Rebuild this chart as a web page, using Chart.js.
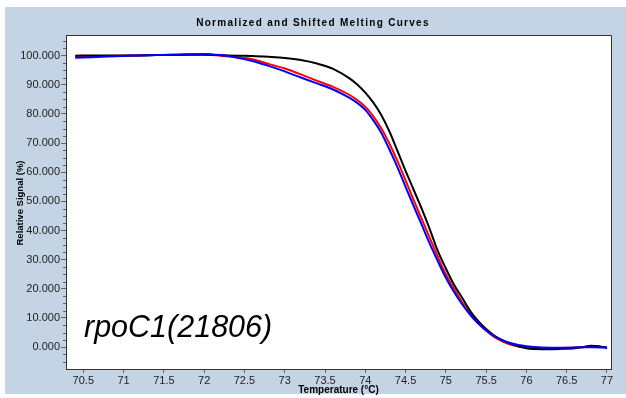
<!DOCTYPE html>
<html>
<head>
<meta charset="utf-8">
<script src="https://cdn.jsdelivr.net/npm/chart.js@4.4.1/dist/chart.umd.min.js"></script>
<style>
  html, body { margin: 0; padding: 0; background: #ffffff; }
  canvas { display: block; }
</style>
</head>
<body>
<canvas id="c" width="626" height="398"></canvas>
<script>
const chartTitle = 'Normalized and Shifted Melting Curves';
const xTitle = 'Temperature (°C)';
const yTitle = 'Relative Signal (%)';
const annotation = 'rpoC1(21806)';

const temps = [70.4, 70.6, 70.8, 71.0, 71.2, 71.4, 71.6, 71.8, 72.0, 72.2, 72.4, 72.6, 72.8, 73.0, 73.2, 73.4, 73.6, 73.8, 73.9, 74.0, 74.1, 74.2, 74.3, 74.4, 74.5, 74.6, 74.7, 74.8, 74.9, 75.0, 75.1, 75.2, 75.3, 75.4, 75.5, 75.6, 75.7, 75.8, 75.9, 76.0, 76.2, 76.4, 76.6, 76.7, 76.8, 76.9, 77.0];

const blackCurve = [100.0, 100.1, 100.1, 100.1, 100.1, 100.2, 100.2, 100.3, 100.3, 100.2, 100.0, 99.9, 99.6, 99.2, 98.5, 97.3, 95.5, 92.3, 90.1, 87.3, 83.9, 79.6, 74.0, 67.3, 60.5, 54.0, 47.5, 40.5, 33.0, 27.0, 21.5, 17.0, 12.5, 9.0, 6.2, 4.0, 2.4, 1.2, 0.3, -0.4, -0.7, -0.6, -0.4, 0.0, 0.5, 0.3, -0.3];

const redCurve = [99.6, 99.8, 99.9, 100.0, 100.1, 100.2, 100.3, 100.4, 100.4, 100.0, 99.5, 98.8, 97.2, 95.6, 93.6, 91.4, 89.3, 86.6, 84.8, 82.5, 79.2, 75.0, 69.8, 63.8, 57.2, 50.5, 44.0, 37.5, 31.0, 25.0, 20.0, 15.5, 11.5, 8.3, 5.6, 3.5, 2.0, 0.9, 0.2, -0.2, -0.4, -0.3, -0.1, 0.0, 0.2, 0.1, 0.0];

const blueCurve = [99.3, 99.5, 99.7, 99.9, 100.1, 100.2, 100.3, 100.5, 100.6, 100.2, 99.4, 98.2, 96.5, 94.6, 92.5, 90.5, 88.4, 85.6, 83.8, 81.4, 77.8, 73.5, 67.8, 61.7, 55.0, 48.5, 42.0, 35.5, 29.5, 23.8, 19.0, 14.8, 11.2, 8.2, 5.8, 3.8, 2.4, 1.4, 0.7, 0.3, -0.1, -0.2, -0.1, 0.0, 0.0, -0.1, -0.1];

const xTicks = [70.5, 71, 71.5, 72, 72.5, 73, 73.5, 74, 74.5, 75, 75.5, 76, 76.5, 77];
const yTicks = [0, 10, 20, 30, 40, 50, 60, 70, 80, 90, 100];
const yMinorTicks = [];
for (let v = -5; v <= 105; v += 2.5) { if (v % 10 !== 0) yMinorTicks.push(v); }

const tickFont = { family: "'Liberation Sans Narrow', 'Liberation Sans', Arial, sans-serif", size: 11 };

const decor = {
  id: 'decor',
  beforeDraw(chart) {
    const ctx = chart.ctx;
    const a = chart.chartArea;
    ctx.save();
    ctx.fillStyle = '#c4d4e4';
    ctx.fillRect(5, 7, chart.width - 5, 387);
    ctx.fillStyle = '#ffffff';
    ctx.fillRect(a.left, a.top, a.right - a.left, a.bottom - a.top);
    ctx.restore();
  },
  afterDraw(chart) {
    const ctx = chart.ctx;
    const a = chart.chartArea;
    const y = chart.scales.y;
    ctx.save();
    ctx.strokeStyle = '#333333';
    ctx.lineWidth = 1;
    ctx.beginPath();
    ctx.moveTo(a.left, a.top + 0.5);
    ctx.lineTo(a.right + 0.5, a.top + 0.5);
    ctx.lineTo(a.right + 0.5, a.bottom);
    ctx.stroke();
    ctx.strokeStyle = '#666666';
    ctx.beginPath();
    yMinorTicks.forEach(v => {
      const py = Math.round(y.getPixelForValue(v)) + 0.5;
      ctx.moveTo(a.left - 3, py);
      ctx.lineTo(a.left, py);
    });
    ctx.stroke();
    ctx.fillStyle = '#000000';
    ctx.font = "bold 10px 'Liberation Sans', Arial, sans-serif";
    ctx.textAlign = 'center';
    ctx.textBaseline = 'middle';
    ctx.letterSpacing = '1.3px';
    ctx.fillText(chartTitle, chart.width / 2, 23);
    ctx.letterSpacing = '0px';
    ctx.font = "bold 10px 'Liberation Sans', Arial, sans-serif";
    ctx.fillText(xTitle, (a.left + a.right) / 2, 390);
    ctx.save();
    ctx.translate(20, 203);
    ctx.rotate(-Math.PI / 2);
    ctx.font = "bold 9.5px 'Liberation Sans', Arial, sans-serif";
    ctx.fillText(yTitle, 0, 0);
    ctx.restore();
    ctx.font = "italic 30.5px 'Liberation Sans', Arial, sans-serif";
    ctx.textAlign = 'left';
    ctx.textBaseline = 'alphabetic';
    ctx.fillText(annotation, 84, 337);
    ctx.restore();
  }
};

const mk = (arr) => temps.map((t, i) => ({ x: t, y: arr[i] }));

new Chart(document.getElementById('c'), {
  type: 'line',
  data: {
    datasets: [
      { data: mk(blueCurve), borderColor: '#0000ff', borderWidth: 2 },
      { data: mk(blackCurve), borderColor: '#000000', borderWidth: 2 },
      { data: mk(redCurve), borderColor: '#ff0000', borderWidth: 2 }
    ]
  },
  options: {
    responsive: false,
    animation: false,
    events: [],
    layout: { padding: { left: 0, right: 15, top: 35, bottom: 0 } },
    elements: { point: { radius: 0 }, line: { cubicInterpolationMode: 'monotone', fill: false } },
    plugins: { legend: { display: false }, title: { display: false }, tooltip: { enabled: false } },
    scales: {
      x: {
        type: 'linear',
        min: 70.285,
        max: 77.05,
        afterFit(s) { s.height = 29; },
        afterBuildTicks(s) { s.ticks = xTicks.map(v => ({ value: v })); },
        grid: { display: true, drawOnChartArea: false, drawTicks: true, tickLength: 4, color: '#666666' },
        border: { display: true, color: '#333333', width: 1 },
        ticks: {
          font: tickFont, color: '#222222', padding: 1, maxRotation: 0, autoSkip: false,
          callback: (v) => String(v)
        }
      },
      y: {
        type: 'linear',
        min: -7.5,
        max: 107.1,
        afterFit(s) { s.width = 66; },
        afterBuildTicks(s) { s.ticks = yTicks.map(v => ({ value: v })); },
        grid: { display: true, drawOnChartArea: false, drawTicks: true, tickLength: 5, color: '#666666' },
        border: { display: true, color: '#333333', width: 1 },
        ticks: {
          font: tickFont, color: '#222222', padding: 1, autoSkip: false,
          callback: (v) => Number(v).toFixed(3)
        }
      }
    }
  },
  plugins: [decor]
});
</script>
</body>
</html>
